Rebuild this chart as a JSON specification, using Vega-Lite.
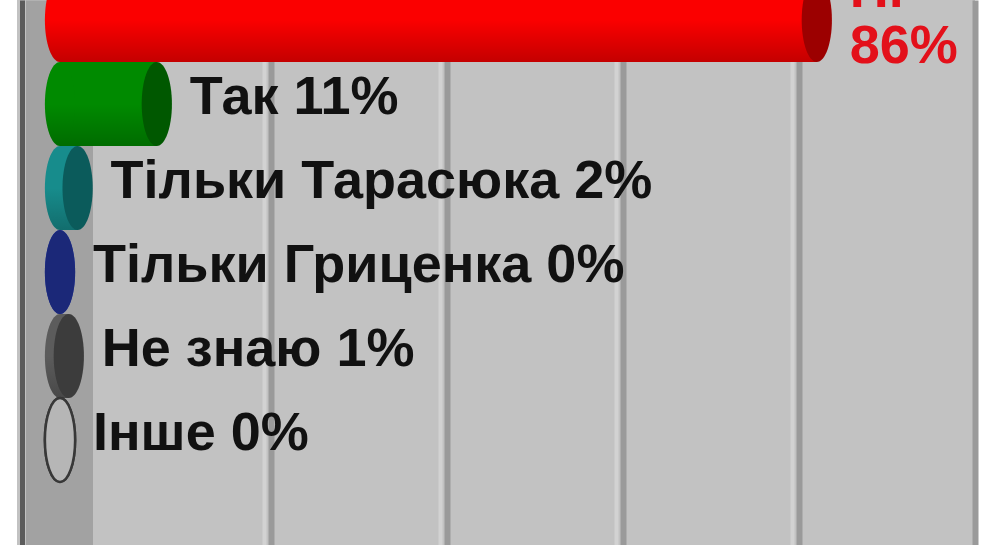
{
  "$schema": "https://vega.github.io/schema/vega-lite/v6.json",
  "autosize": {"type": "none"},
  "padding": {"left": 17, "top": 0, "right": 25, "bottom": 0},
  "width": 958,
  "height": 545,
  "background": "#ffffff",
  "config": {
    "view": {"fill": "#c2c2c2", "stroke": null}
  },
  "data": {
    "values": [
      {"answer": "Ні", "pct": 86, "label": "Ні\n86%"},
      {"answer": "Так", "pct": 11, "label": "Так 11%"},
      {"answer": "Тільки Тарасюка", "pct": 2, "label": "Тільки Тарасюка 2%"},
      {"answer": "Тільки Гриценка", "pct": 0, "label": "Тільки Гриценка 0%"},
      {"answer": "Не знаю", "pct": 1, "label": "Не знаю 1%"},
      {"answer": "Інше", "pct": 0, "label": "Інше 0%"}
    ]
  },
  "encoding": {
    "y": {
      "field": "answer",
      "type": "nominal",
      "sort": null,
      "axis": null,
      "scale": {
        "domain": ["Ні", "Так", "Тільки Тарасюка", "Тільки Гриценка", "Не знаю", "Інше"],
        "range": [-22, 545],
        "paddingInner": 0,
        "paddingOuter": 0.375,
        "align": 0
      }
    }
  },
  "layer": [
    {
      "mark": {"type": "bar", "xOffset": -35, "x2Offset": -35},
      "encoding": {
        "x": {
          "field": "pct",
          "type": "quantitative",
          "scale": {"domain": [-8.864, 100], "nice": false, "zero": false},
          "axis": {
            "title": null,
            "labels": false,
            "ticks": false,
            "domain": false,
            "grid": true,
            "values": [-8.24, -4.148, 19.15, 20, 39.15, 40, 59.15, 60, 79.15, 80, 100],
            "gridOpacity": 1,
            "gridColor": {
              "condition": [
                {"test": "datum.value < -6", "value": "#5c5c5c"},
                {"test": "datum.value < 0", "value": "#a2a2a2"},
                {"test": "datum.value % 20 != 0", "value": "#d2d2d2"}
              ],
              "value": "#9a9a9a"
            },
            "gridWidth": {
              "condition": [
                {"test": "datum.value < -6", "value": 5},
                {"test": "datum.value < 0", "value": 67},
                {"test": "datum.value % 20 != 0", "value": 4}
              ],
              "value": 6
            }
          }
        },
        "color": {
          "field": "answer",
          "type": "nominal",
          "legend": null,
          "scale": {
            "domain": ["Ні", "Так", "Тільки Тарасюка", "Тільки Гриценка", "Не знаю", "Інше"],
            "range": ["#fb0000", "#008a00", "#178c8c", "#2a40b0", "#5c5c5c", "#b6b6b6"]
          }
        }
      }
    },
    {
      "mark": {
        "type": "point",
        "filled": true,
        "opacity": 1,
        "size": 7056,
        "strokeWidth": 2.5,
        "xOffset": -35,
        "shape": "M 0 -1 A 0.36 1 0 1 1 0 1 A 0.36 1 0 1 1 0 -1 Z"
      },
      "encoding": {
        "x": {"datum": 0, "type": "quantitative"},
        "color": {
          "field": "answer",
          "type": "nominal",
          "legend": null,
          "scale": {
            "domain": ["Ні", "Так", "Тільки Тарасюка", "Тільки Гриценка", "Не знаю", "Інше"],
            "range": ["#fb0000", "#008a00", "#178c8c", "#2a40b0", "#5c5c5c", "#b6b6b6"]
          }
        },
        "stroke": {
          "condition": {"test": "datum.answer === 'Інше'", "value": "#383838"},
          "value": "transparent"
        }
      }
    },
    {
      "mark": {
        "type": "bar",
        "xOffset": -35,
        "x2Offset": -35,
        "color": {
          "gradient": "linear",
          "x1": 0, "y1": 0, "x2": 0, "y2": 1,
          "stops": [
            {"offset": 0, "color": "rgba(0,0,0,0)"},
            {"offset": 0.5, "color": "rgba(0,0,0,0)"},
            {"offset": 1, "color": "rgba(0,0,0,0.22)"}
          ]
        }
      },
      "encoding": {
        "x": {"field": "pct", "type": "quantitative"}
      }
    },
    {
      "mark": {
        "type": "point",
        "filled": true,
        "opacity": 1,
        "size": 7056,
        "xOffset": -35,
        "shape": "M 0 -1 A 0.36 1 0 0 0 0 1 Z",
        "color": {
          "gradient": "linear",
          "x1": 0, "y1": 0, "x2": 0, "y2": 1,
          "stops": [
            {"offset": 0, "color": "rgba(0,0,0,0)"},
            {"offset": 0.5, "color": "rgba(0,0,0,0)"},
            {"offset": 1, "color": "rgba(0,0,0,0.22)"}
          ]
        }
      },
      "encoding": {
        "x": {"datum": 0, "type": "quantitative"}
      }
    },
    {
      "mark": {
        "type": "point",
        "filled": true,
        "opacity": 1,
        "size": 7056,
        "strokeWidth": 2.5,
        "xOffset": -35,
        "shape": "M 0 -1 A 0.36 1 0 1 1 0 1 A 0.36 1 0 1 1 0 -1 Z"
      },
      "encoding": {
        "x": {"field": "pct", "type": "quantitative"},
        "color": {
          "field": "answer",
          "type": "nominal",
          "legend": null,
          "scale": {
            "domain": ["Ні", "Так", "Тільки Тарасюка", "Тільки Гриценка", "Не знаю", "Інше"],
            "range": ["#9c0000", "#005800", "#0b5b5b", "#1b2878", "#3c3c3c", "#b6b6b6"]
          }
        },
        "stroke": {
          "condition": {"test": "datum.answer === 'Інше'", "value": "#383838"},
          "value": "transparent"
        }
      }
    },
    {
      "transform": [{"filter": "datum.answer !== 'Ні'"}],
      "mark": {
        "type": "text",
        "align": "left",
        "baseline": "middle",
        "dx": -2,
        "dy": -6,
        "font": "Liberation Sans",
        "fontWeight": "bold",
        "fontSize": 54,
        "color": "#111111"
      },
      "encoding": {
        "x": {"field": "pct", "type": "quantitative"},
        "text": {"field": "label"}
      }
    },
    {
      "transform": [{"filter": "datum.answer === 'Ні'"}],
      "mark": {
        "type": "text",
        "align": "left",
        "baseline": "middle",
        "dx": -2,
        "dy": -29,
        "font": "Liberation Sans",
        "fontWeight": "bold",
        "fontSize": 54,
        "lineBreak": "\n",
        "lineHeight": 56,
        "color": "#e3101a"
      },
      "encoding": {
        "x": {"field": "pct", "type": "quantitative"},
        "text": {"field": "label"}
      }
    }
  ],
  "resolve": {"scale": {"color": "independent"}}
}
